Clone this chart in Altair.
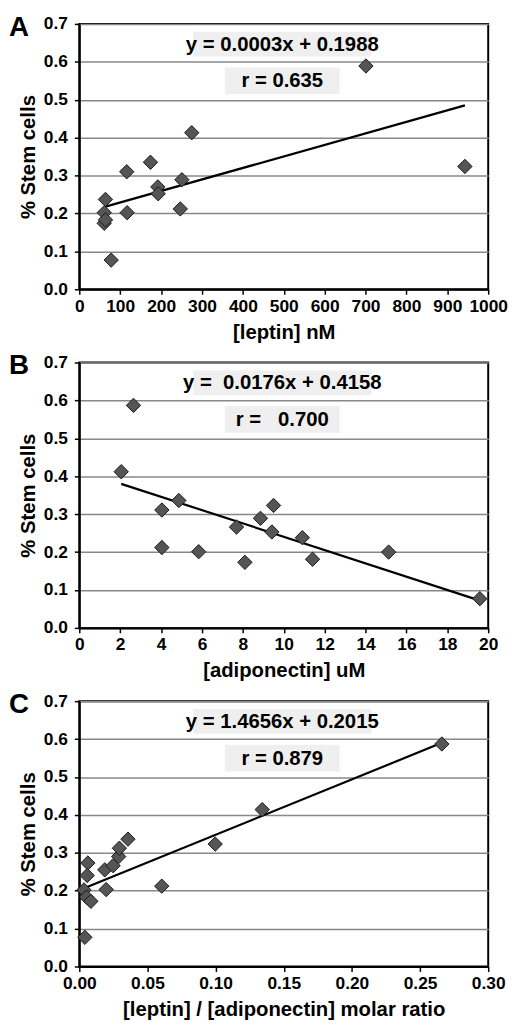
import altair as alt
import pandas as pd

# Panel A: leptin (nM) vs % stem cells
a_x = [701, 943, 275, 174, 116, 251, 192, 193, 247, 117, 64, 61, 61, 64, 78]
a_y = [0.589, 0.324, 0.413, 0.335, 0.310, 0.289, 0.270, 0.252, 0.212, 0.202, 0.237, 0.202, 0.174, 0.183, 0.077]
a_fit_x = [64, 943]
a_fit_y = [0.218, 0.485]

# Panel B: adiponectin (uM)
b_x = [2.05, 2.65, 4.04, 4.87, 4.04, 5.84, 7.69, 8.10, 8.86, 9.50, 9.42, 10.91, 11.41, 15.13, 19.59]
b_y = [0.412, 0.587, 0.311, 0.336, 0.212, 0.201, 0.266, 0.173, 0.289, 0.323, 0.253, 0.238, 0.181, 0.200, 0.077]
b_fit_x = [2.05, 19.6]
b_fit_y = [0.380, 0.072]

# Panel C: leptin/adiponectin molar ratio
c_x = [0.0041, 0.0063, 0.0058, 0.0034, 0.0053, 0.0085, 0.0197, 0.0187, 0.0248, 0.0289, 0.0294, 0.0357, 0.0605, 0.0997, 0.1342, 0.266]
c_y = [0.077, 0.273, 0.240, 0.202, 0.183, 0.172, 0.203, 0.255, 0.266, 0.290, 0.312, 0.336, 0.212, 0.323, 0.414, 0.587]
c_fit_x = [0.003, 0.266]
c_fit_y = [0.206, 0.590]

panels = [
    dict(letter="A", x=a_x, y=a_y, fx=a_fit_x, fy=a_fit_y, dom=[0, 1000], step=100, fmt="d",
         xtitle="[leptin] nM", eq="y = 0.0003x + 0.1988", r="r = 0.635"),
    dict(letter="B", x=b_x, y=b_y, fx=b_fit_x, fy=b_fit_y, dom=[0, 20], step=2, fmt="d",
         xtitle="[adiponectin] uM", eq="y =\u00a0 0.0176x + 0.4158", r="r =\u00a0\u00a0 0.700"),
    dict(letter="C", x=c_x, y=c_y, fx=c_fit_x, fy=c_fit_y, dom=[0, 0.30], step=0.05, fmt=".2f",
         xtitle="[leptin] / [adiponectin] molar ratio", eq="y = 1.4656x + 0.2015", r="r = 0.879"),
]

FONT = "Liberation Sans"
W, H = 413, 268


def make_panel(p):
    n = int(round((p["dom"][1] - p["dom"][0]) / p["step"]))
    xticks = [round(p["dom"][0] + i * p["step"], 4) for i in range(n + 1)]
    xs = alt.Scale(domain=p["dom"], nice=False, zero=False)
    ys = alt.Scale(domain=[0, 0.7], nice=False)
    xaxis = alt.Axis(values=xticks, format=p["fmt"], title=p["xtitle"], grid=False,
                     labelFontSize=17.5, labelFontWeight="bold", labelFont=FONT, labelColor="black",
                     titleFontSize=20.5, titleFontWeight="bold", titleFont=FONT, titleColor="black",
                     domainColor="black", domainWidth=2, tickColor="black", tickWidth=1.5,
                     tickSize=5, labelPadding=3, titlePadding=8, labelFlush=False)
    yaxis = alt.Axis(values=[0, 0.1, 0.2, 0.3, 0.4, 0.5, 0.6, 0.7], format=".1f", title="% Stem cells",
                     grid=True, gridColor="#888888", gridWidth=1.5,
                     labelFontSize=17.5, labelFontWeight="bold", labelFont=FONT, labelColor="black",
                     titleFontSize=20.5, titleFontWeight="bold", titleFont=FONT, titleColor="black",
                     domainColor="black", domainWidth=2, tickColor="black", tickWidth=1.5,
                     tickSize=5, labelPadding=7, titlePadding=5)

    pts = pd.DataFrame({"x": p["x"], "y": p["y"]})
    fit = pd.DataFrame({"x": p["fx"], "y": p["fy"]})

    box_layer = alt.Chart(pd.DataFrame({"k": [0]})).mark_rect(color="#efefef").encode(
        x=alt.value(115), x2=alt.value(295), y=alt.value(8), y2=alt.value(33))
    box_layer2 = alt.Chart(pd.DataFrame({"k": [0]})).mark_rect(color="#efefef").encode(
        x=alt.value(147), x2=alt.value(263), y=alt.value(44), y2=alt.value(71))

    eq_t = alt.Chart(pd.DataFrame({"t": [p["eq"]]})).mark_text(
        font=FONT, fontSize=20.5, fontWeight="bold", color="black", align="center", baseline="middle"
    ).encode(x=alt.value(205), y=alt.value(21), text="t:N")
    r_t = alt.Chart(pd.DataFrame({"t": [p["r"]]})).mark_text(
        font=FONT, fontSize=20.5, fontWeight="bold", color="black", align="center", baseline="middle"
    ).encode(x=alt.value(205), y=alt.value(58), text="t:N")
    letter = alt.Chart(pd.DataFrame({"t": [p["letter"]]})).mark_text(
        font=FONT, fontSize=28, fontWeight="bold", color="black", align="left", baseline="top"
    ).encode(x=alt.value(-71), y=alt.value(-10), text="t:N")

    line = alt.Chart(fit).mark_line(color="black", strokeWidth=2.2).encode(
        x=alt.X("x:Q", scale=xs, axis=xaxis), y=alt.Y("y:Q", scale=ys, axis=yaxis))
    points = alt.Chart(pts).mark_point(shape="diamond", filled=True, size=210, fill="#555555",
                                       stroke="#1a1a1a", strokeWidth=1, opacity=1).encode(
        x=alt.X("x:Q", scale=xs, axis=xaxis), y=alt.Y("y:Q", scale=ys, axis=yaxis))

    return alt.layer(box_layer, box_layer2, eq_t, r_t, line, points, letter).properties(width=W, height=H)


chart = alt.vconcat(*[make_panel(p) for p in panels], spacing=8).properties(
    padding=0, background="white"
).configure_view(stroke="black", strokeWidth=2).configure_concat(spacing=8)

chart.save("out.html", embed_options={"renderer": "svg", "actions": False})
